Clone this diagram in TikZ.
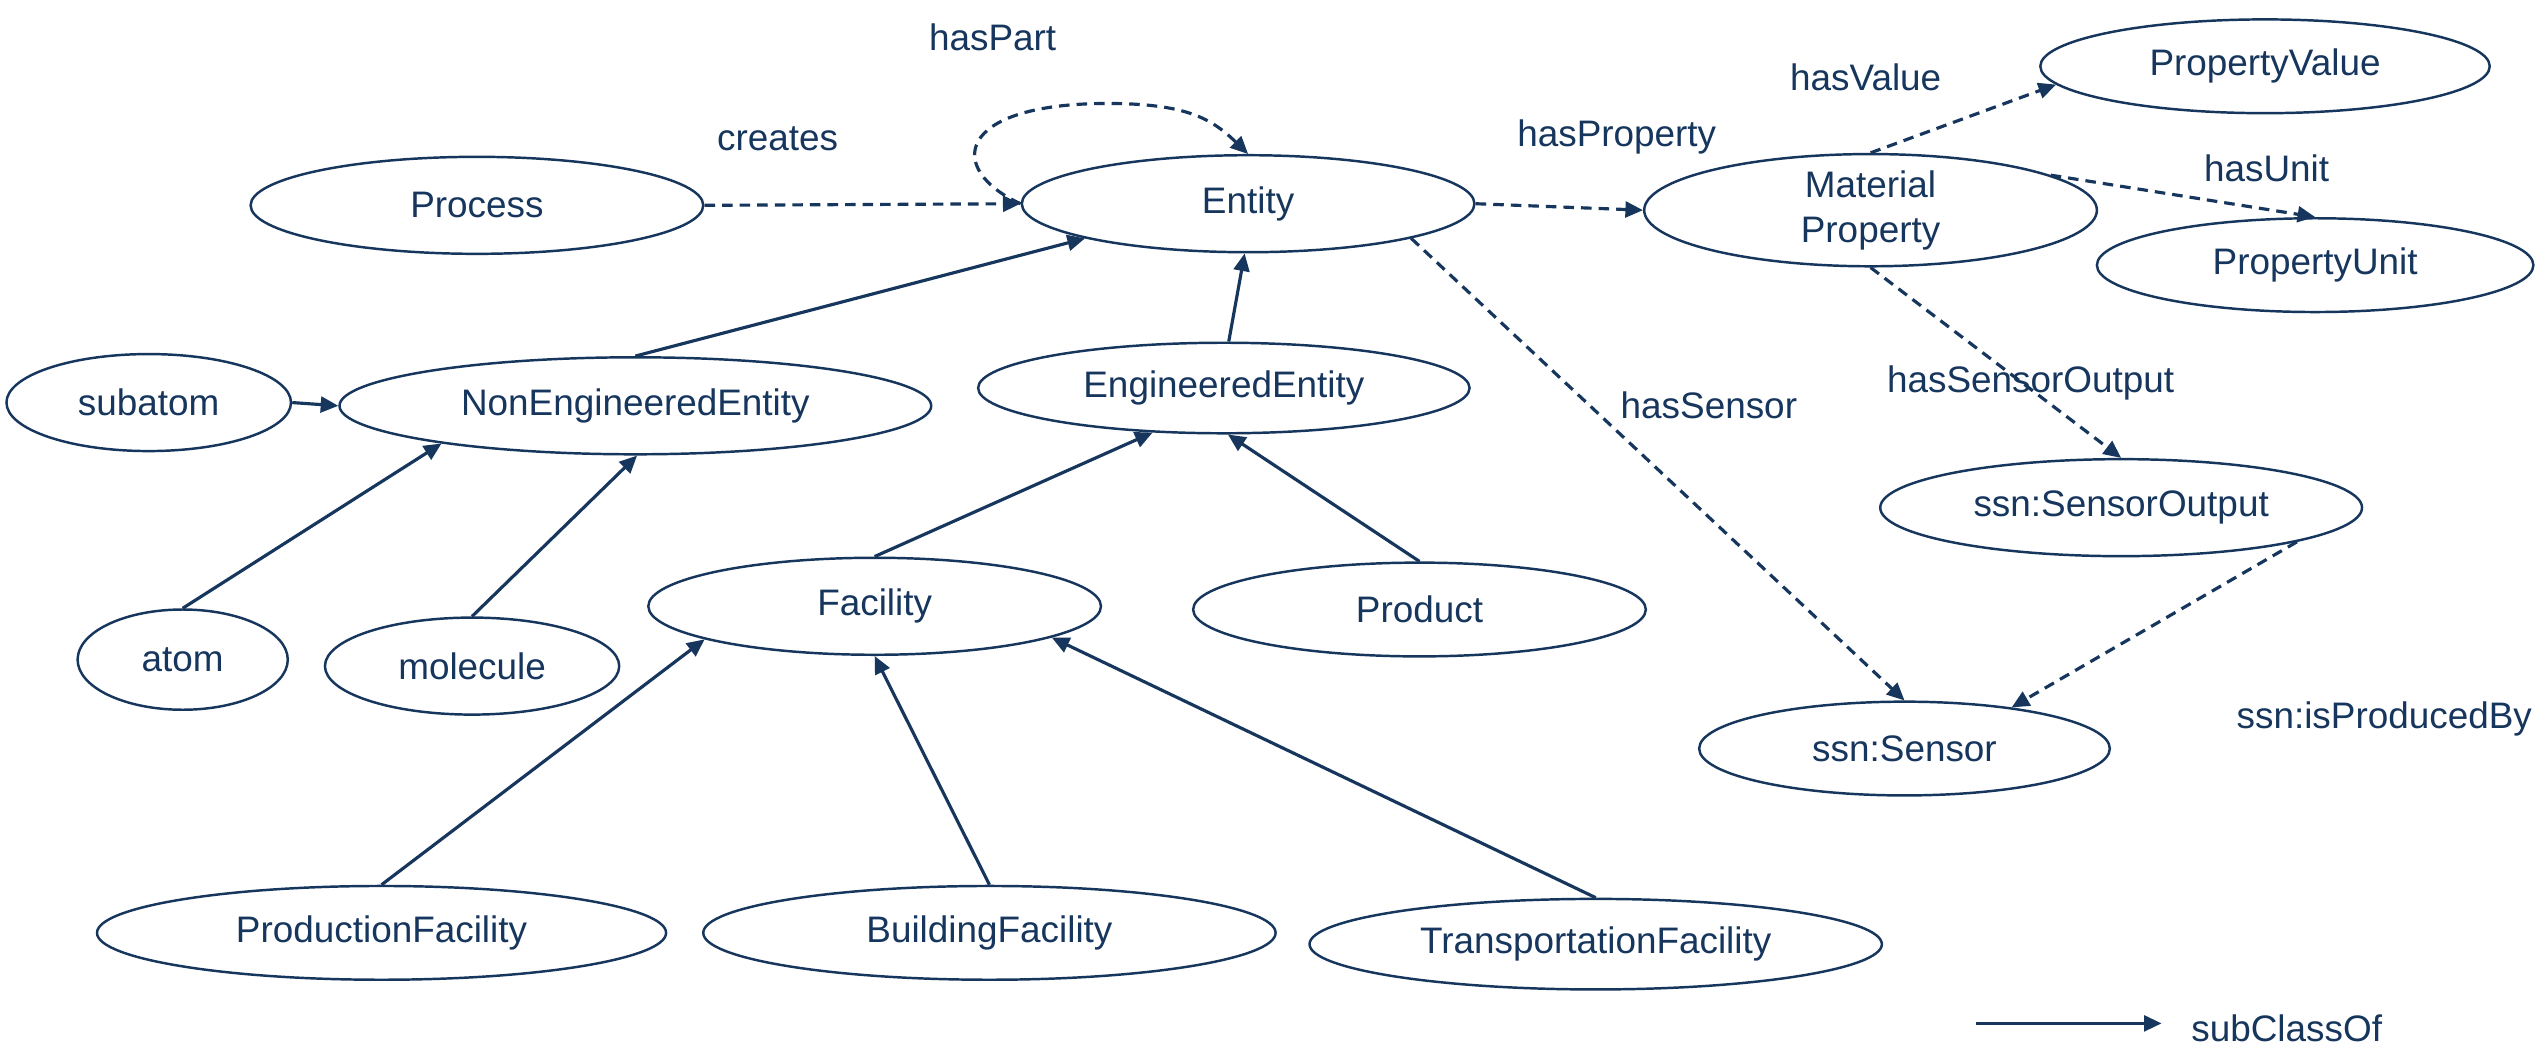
\documentclass[tikz,border=0pt]{standalone}
\usepackage{fontspec}
\setmainfont{Liberation Sans}
\usetikzlibrary{shapes.geometric,arrows.meta}
\definecolor{navy}{HTML}{17365D}
\begin{document}
\begin{tikzpicture}[x=0.016167cm,y=-0.016167cm,
  every node/.style={text=navy,font=\fontsize{10.5}{12.8}\selectfont},
  cls/.style={ellipse,draw=navy,line width=0.7pt,inner sep=0pt},
  sz/.style 2 args={minimum width={2*#1*0.016167cm},minimum height={2*#2*0.016167cm}},
  sub/.style={draw=navy,line width=0.9pt,-{Triangle[length=5pt,width=4.5pt]}},
  prop/.style={draw=navy,line width=0.9pt,dash pattern=on 3pt off 2pt,-{Triangle[length=5pt,width=4.5pt]}},
  lbl/.style={inner sep=0pt}
]
\useasboundingbox (0,0) rectangle (1568,648);
\fill[white] (0,0) rectangle (1568,648);

% classes
\node[cls,sz={140}{30}] (process) at (295,127) {Process};
\node[cls,sz={140}{30}] (entity) at (772,126) {Entity};
\node[cls,sz={140}{30},align=center] (matprop) at (1157,130) {Material\\Property};
\node[cls,sz={139}{29}] (pvalue) at (1401,41) {PropertyValue};
\node[cls,sz={135}{29}] (punit) at (1432,164) {PropertyUnit};
\node[cls,sz={88}{30}] (subatom) at (92,249) {subatom};
\node[cls,sz={183}{30}] (nee) at (393,251) {NonEngineeredEntity};
\node[cls,sz={152}{28}] (ee) at (757,240) {EngineeredEntity};
\node[cls,sz={140}{30}] (facility) at (541,375) {Facility};
\node[cls,sz={140}{29}] (product) at (878,377) {Product};
\node[cls,sz={65}{31}] (atom) at (113,408) {atom};
\node[cls,sz={91}{30}] (molecule) at (292,412) {molecule};
\node[cls,sz={149}{30}] (sout) at (1312,314) {ssn:SensorOutput};
\node[cls,sz={127}{29}] (sensor) at (1178,463) {ssn:Sensor};
\node[cls,sz={176}{29}] (prodfac) at (236,577) {ProductionFacility};
\node[cls,sz={177}{29}] (bldfac) at (612,577) {BuildingFacility};
\node[cls,sz={177}{28}] (trfac) at (987,584) {TransportationFacility};

% subClassOf edges
\draw[sub] (nee.north) -- (entity.192);
\draw[sub] (ee.84) -- (entity.266);
\draw[sub] (subatom.east) -- (nee.west);
\draw[sub] (atom.north) -- (nee.191);
\draw[sub] (molecule.north) -- (nee.272);
\draw[sub] (facility.north) -- (ee.212);
\draw[sub] (product.north) -- (ee.275);
\draw[sub] (prodfac.north) -- (facility.191);
\draw[sub] (bldfac.north) -- (facility.south);
\draw[sub] (trfac.north) -- (facility.350);

% property edges
\draw[prop] (process.east) -- (entity.west);
\coordinate (looptop) at (685,64);
\draw[prop] (entity.west) .. controls (585,105) and (590,64) .. (looptop)
  .. controls (735,64) and (750,74) .. (entity.north);
\draw[prop] (entity.east) -- (matprop.west);
\draw[prop] (matprop.north) -- (pvalue.185);
\draw[prop] (matprop.11) -- (punit.north);
\draw[prop] (matprop.south) -- (sout.north);
\draw[prop] (entity.348) -- (sensor.north);
\draw[prop] (sout.349) -- (sensor.21);

% labels
\node[lbl] (lhaspart) at (614,23) {hasPart};
\node[lbl] (lcreates) at (481,86) {creates};
\node[lbl] (lhasprop) at (1000,85) {hasProperty};
\node[lbl] (lhasvalue) at (1154,48) {hasValue};
\node[lbl] (lhasunit) at (1402,104) {hasUnit};
\node[lbl] (lhassensor) at (1057,251) {hasSensor};
\node[lbl] (lhasso) at (1256,237) {hasSensorOutput};
\node[lbl,anchor=west] (lisprod) at (1383,445) {ssn:isProducedBy};

% legend
\coordinate (lgA) at (1222,633);
\coordinate (lgB) at (1337,633);
\draw[sub] (lgA) -- (lgB);
\node[lbl,anchor=west] (lsub) at (1355,636) {subClassOf};
\end{tikzpicture}
\end{document}
